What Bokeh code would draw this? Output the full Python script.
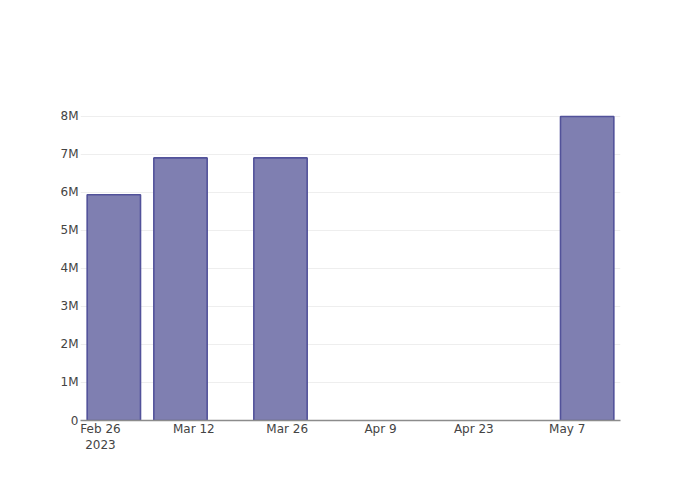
from datetime import datetime
from bokeh.plotting import figure
from bokeh.models import ColumnDataSource, Range1d, FixedTicker
from bokeh.embed import file_html
from bokeh.resources import INLINE

dates = ["2023-02-28", "2023-03-10", "2023-03-25", "2023-05-10"]
values = [5.94e6, 6.91e6, 6.91e6, 8.0e6]
x_tick_dates = ["2023-02-26", "2023-03-12", "2023-03-26", "2023-04-09", "2023-04-23", "2023-05-07"]
x_tick_labels = ["Feb 26\n2023", "Mar 12", "Mar 26", "Apr 9", "Apr 23", "May 7"]
y_ticks = [0, 1e6, 2e6, 3e6, 4e6, 5e6, 6e6, 7e6, 8e6]
y_tick_labels = ["0", "1M", "2M", "3M", "4M", "5M", "6M", "7M", "8M"]

DAY = 86400000.0

def ms(s):
    return (datetime.strptime(s, "%Y-%m-%d") - datetime(1970, 1, 1)).total_seconds() * 1000.0

xs = [ms(d) for d in dates]
src = ColumnDataSource(data=dict(x=xs, top=values))

p = figure(width=684, height=484, x_axis_type="datetime",
           output_backend="svg", toolbar_location=None,
           x_range=Range1d(ms("2023-02-23"), ms("2023-05-15")),
           y_range=Range1d(0, 8.42e6),
           min_border_left=80, min_border_right=64,
           min_border_top=100, min_border_bottom=64)

p.vbar(x="x", top="top", width=8 * DAY, source=src,
       fill_color="#7f7fb1", line_color="#52529a", line_width=1.6)

tick_ms = [ms(d) for d in x_tick_dates]
p.xaxis.ticker = FixedTicker(ticks=tick_ms)
p.xaxis.major_label_overrides = {t: l for t, l in zip(tick_ms, x_tick_labels)}
p.yaxis.ticker = FixedTicker(ticks=y_ticks)
p.yaxis.major_label_overrides = {t: l for t, l in zip(y_ticks, y_tick_labels)}

for ax in (p.xaxis, p.yaxis):
    ax.major_label_text_font = "DejaVu Sans"
    ax.major_label_text_font_size = "12px"
    ax.major_label_text_color = "#444444"
    ax.major_tick_line_color = None
    ax.minor_tick_line_color = None
    ax.major_tick_out = 0
    ax.major_tick_in = 0
    ax.minor_tick_out = 0
    ax.minor_tick_in = 0

p.yaxis.axis_line_color = None
p.yaxis.major_label_standoff = 2
p.xaxis.axis_line_color = "#8c8c8c"
p.xaxis.axis_line_width = 1.5
p.xaxis.major_label_standoff = 1

p.xgrid.grid_line_color = None
p.ygrid.grid_line_color = "#eeeeee"
p.ygrid.grid_line_width = 1
p.outline_line_color = None
p.background_fill_color = "white"
p.border_fill_color = "white"

open("out.html", "w").write(file_html(p, INLINE))
